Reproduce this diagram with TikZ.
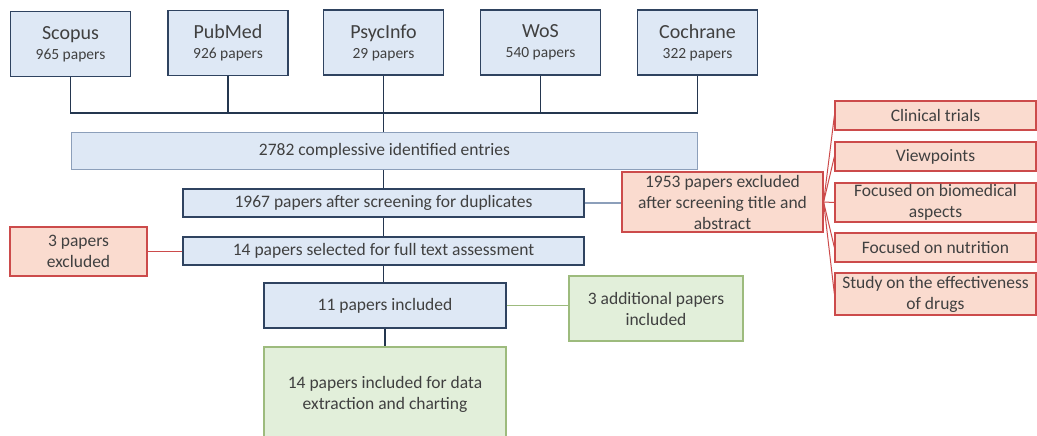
\documentclass[tikz,border=0pt]{standalone}
\usepackage{fontspec}
\setmainfont{Carlito}
\definecolor{bfill}{HTML}{DEE8F5}
\definecolor{bdraw}{HTML}{2F4360}
\definecolor{blight}{HTML}{8C9FBA}
\definecolor{rfill}{HTML}{FADBCF}
\definecolor{rdraw}{HTML}{CC4B4B}
\definecolor{gfill}{HTML}{E2EFDA}
\definecolor{gdraw}{HTML}{9DBB7D}
\definecolor{txt}{HTML}{404040}
\definecolor{navy}{HTML}{24364F}
\tikzset{
  box/.style={draw, line width=1.2pt, inner sep=0pt, align=center, text=txt,
    font=\fontsize{17.5}{21}\selectfont},
  bluebox/.style={box, fill=bfill, draw=bdraw},
  redbox/.style={box, fill=rfill, draw=rdraw},
  greenbox/.style={box, fill=gfill, draw=gdraw},
  dbbox/.style={bluebox, minimum width=120pt, minimum height=65pt},
  conn/.style={draw=navy, line width=1.5pt},
  rconn/.style={draw=rdraw, line width=1pt},
  gconn/.style={draw=gdraw, line width=1.5pt},
}
\newcommand{\dbtext}[2]{{\fontsize{20}{22}\selectfont #1}\\[-1pt]{\fontsize{15.5}{18}\selectfont #2}}
\begin{document}
\begin{tikzpicture}[x=1pt,y=-1pt]
\useasboundingbox (0,0) rectangle (1037,436);
\clip (0,0) rectangle (1037,436);
% databases
\node[dbbox] (scopus) at (70.5,44) {\dbtext{Scopus}{965 papers}};
\node[dbbox] (pubmed) at (228,43) {\dbtext{PubMed}{926 papers}};
\node[dbbox] (psyc) at (383.5,42.5) {\dbtext{PsycInfo}{29 papers}};
\node[dbbox] (wos) at (540.5,42.5) {\dbtext{WoS}{540 papers}};
\node[dbbox] (coch) at (697.5,42.5) {\dbtext{Cochrane}{322 papers}};
% main flow
\node[bluebox, draw=blight, minimum width=626pt, minimum height=37pt] (entries) at (384.5,151) {2782 complessive identified entries};
\node[bluebox, minimum width=401pt, minimum height=28pt] (dup) at (383.5,203) {1967 papers after screening for duplicates};
\node[bluebox, minimum width=401pt, minimum height=28pt] (sel) at (383.5,251) {14 papers selected for full text assessment};
\node[redbox, minimum width=137pt, minimum height=49pt] (excl3) at (78.5,251.5) {3 papers\\excluded};
\node[bluebox, minimum width=242pt, minimum height=45pt] (inc11) at (385,305.5) {11 papers included};
\node[greenbox, minimum width=174pt, minimum height=65pt] (add3) at (656,308.5) {3 additional papers\\included};
\node[greenbox, minimum width=242pt, minimum height=94pt] (final) at (385,394) {14 papers included for data\\extraction and charting};
\node[redbox, minimum width=201pt, minimum height=60pt] (ex1953) at (722.5,202) {1953 papers excluded\\after screening title and\\abstract};
% exclusion reasons
\node[redbox, minimum width=201pt, minimum height=29pt] (ct) at (935.5,115.5) {Clinical trials};
\node[redbox, minimum width=201pt, minimum height=29pt] (vp) at (935.5,156.5) {Viewpoints};
\node[redbox, minimum width=201pt, minimum height=39pt] (bio) at (935.5,202.5) {Focused on biomedical\\aspects};
\node[redbox, minimum width=201pt, minimum height=29pt] (nut) at (935.5,247.5) {Focused on nutrition};
\node[redbox, minimum width=201pt, minimum height=42pt] (drug) at (935.5,294) {Study on the effectiveness\\of drugs};
% connectors
\coordinate (bus) at (0,113);
\draw[conn] (scopus.south) -- (scopus.south |- bus) -- (coch.south |- bus) -- (coch.south);
\draw[conn] (pubmed.south) -- (pubmed.south |- bus);
\draw[conn] (wos.south) -- (wos.south |- bus);
\draw[conn] (psyc.south) -- (psyc.south |- entries.north);
\draw[conn] (dup.north |- entries.south) -- (dup.north);
\draw[conn] (dup.south) -- (sel.north);
\draw[conn] (sel.south) -- (sel.south |- inc11.north);
\draw[conn] (inc11.south) -- (final.north);
\draw[draw=blight, line width=1.2pt] (dup.east) -- (dup.east -| ex1953.west);
\draw[rconn] (sel.west) -- (sel.west -| excl3.east);
\draw[gconn] (inc11.east) -- (inc11.east -| add3.west);
\foreach \t in {ct,vp,bio,nut,drug} \draw[rconn] (ex1953.east) -- (\t.west);
\end{tikzpicture}
\end{document}
